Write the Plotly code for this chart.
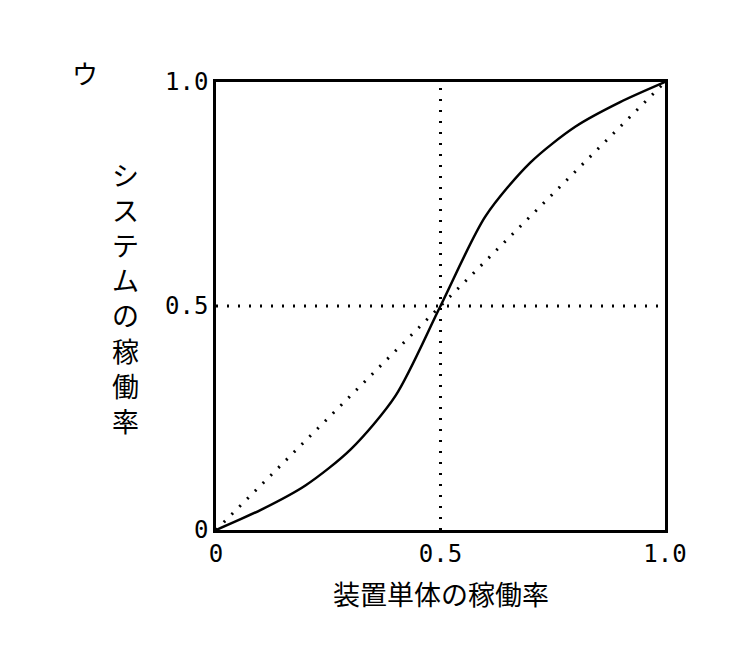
import plotly.graph_objects as go

unit_rate = [0, 0.1, 0.2, 0.3, 0.4, 0.5, 0.6, 0.7, 0.8, 0.9, 1.0]
system_rate = [0, 0.045, 0.1, 0.18, 0.3, 0.5, 0.7, 0.82, 0.9, 0.955, 1.0]
diag_x = [0, 1]
diag_y = [0, 1]
tick_vals = [0, 0.5, 1.0]
tick_text = ["0", "0.5", "1.0"]

dot = dict(color="black", width=3, dash="2px,9px")
fig = go.Figure()
fig.add_trace(go.Scatter(x=diag_x, y=diag_y, mode="lines", line=dot))
fig.add_trace(go.Scatter(x=[0.5, 0.5], y=[0, 1], mode="lines", line=dot))
fig.add_trace(go.Scatter(x=[0, 1], y=[0.5, 0.5], mode="lines", line=dot))
fig.add_trace(go.Scatter(x=unit_rate, y=system_rate, mode="lines",
                         line=dict(color="black", width=2.5, shape="spline", smoothing=0.8)))

mono = "DejaVu Sans Mono"
axis = dict(range=[0, 1], tickvals=tick_vals, ticktext=tick_text, showgrid=False,
            zeroline=False, showline=True, mirror=True, linecolor="black", linewidth=2.5,
            ticks="", tickfont=dict(family=mono, size=24, color="black"))
fig.update_layout(
    width=738, height=664, showlegend=False,
    paper_bgcolor="white", plot_bgcolor="white",
    margin=dict(l=208, r=81, t=74, b=142),
    xaxis=axis, yaxis=axis,
    annotations=[
        dict(text="ウ", x=(62 - 208) / 449, y=(523 - 45) / 448, xref="paper", yref="paper",
             showarrow=False, font=dict(family="Noto Sans CJK JP", size=26, color="black")),
        dict(text="装置単体の稼働率", x=0.5, y=-0.19, xref="paper", yref="paper",
             showarrow=False, font=dict(family="Noto Sans CJK JP", size=27, color="black")),
        dict(text="シ<br>ス<br>テ<br>ム<br>の<br>稼<br>働<br>率", x=-0.235, y=0.52,
             xref="paper", yref="paper", showarrow=False,
             font=dict(family="Noto Sans CJK JP", size=27, color="black")),
    ],
)
fig.write_html("out.html")
